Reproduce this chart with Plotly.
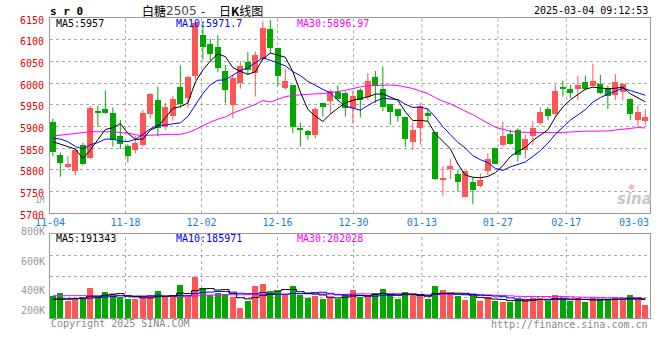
import numpy as np
import pandas as pd
import plotly.graph_objects as go

# ---------------- data ----------------
open_ = [5911, 5835, 5806, 5798, 5858, 5827, 5934, 5941, 5932, 5878,
         5855, 5847, 5858, 5929, 5961, 5900, 5924, 5990, 5966, 6017,
         6111, 6090, 6083, 6027, 5950, 6000, 6048, 6024, 6055, 6125,
         6081, 5988, 5996, 5897, 5890, 5881, 5954, 5958, 5979, 5978,
         5942, 5985, 5968, 6013, 5987, 5952, 5940, 5921, 5864, 5896,
         5931, 5888, 5778, 5802, 5791, 5738, 5771, 5763, 5798, 5851,
         5858, 5883, 5892, 5846, 5877, 5909, 5940, 5929, 5991, 5987,
         5987, 6002, 5994, 5998, 5988, 5973, 5979, 5963, 5915, 5913]
high = [5918, 5840, 5832, 5848, 5862, 5948, 5948, 5983, 5944, 5915,
        5859, 5878, 5938, 5977, 5992, 5954, 5971, 6041, 6017, 6141,
        6141, 6102, 6110, 6042, 6019, 6050, 6071, 6073, 6142, 6146,
        6082, 6032, 5996, 5909, 5892, 5944, 5954, 5985, 5994, 5981,
        5981, 5988, 6023, 6028, 6038, 5952, 5941, 5921, 5910, 5954,
        5942, 5888, 5808, 5825, 5800, 5798, 5784, 5792, 5838, 5851,
        5911, 5892, 5896, 5881, 5913, 5944, 5946, 5997, 6006, 5996,
        6017, 6017, 6045, 6019, 5994, 6021, 6000, 5965, 5948, 5940]
low = [5831, 5784, 5804, 5788, 5810, 5825, 5900, 5929, 5854, 5848,
       5817, 5838, 5854, 5919, 5877, 5892, 5913, 5943, 5943, 6007,
       6054, 6051, 6025, 5954, 5919, 5987, 6019, 5969, 6054, 6069,
       5994, 5985, 5885, 5854, 5869, 5873, 5923, 5929, 5958, 5923,
       5908, 5921, 5961, 5954, 5935, 5904, 5911, 5852, 5846, 5858,
       5911, 5777, 5741, 5779, 5750, 5738, 5721, 5760, 5788, 5814,
       5854, 5858, 5819, 5827, 5858, 5904, 5915, 5925, 5969, 5965,
       5961, 5983, 5992, 5975, 5940, 5961, 5960, 5915, 5901, 5904]
close = [5842, 5815, 5814, 5846, 5814, 5942, 5932, 5931, 5868, 5860,
         5831, 5863, 5932, 5974, 5896, 5944, 5963, 5952, 6015, 6138,
         6083, 6066, 6035, 5983, 6012, 6040, 6031, 6065, 6128, 6082,
         6017, 6006, 5898, 5894, 5881, 5941, 5944, 5982, 5963, 5942,
         5971, 5961, 6004, 5994, 5946, 5934, 5925, 5871, 5892, 5948,
         5925, 5779, 5782, 5810, 5771, 5798, 5754, 5777, 5825, 5814,
         5878, 5860, 5835, 5871, 5896, 5934, 5925, 5982, 5988, 5978,
         5996, 5986, 6005, 5977, 5971, 6002, 5998, 5929, 5933, 5922]
volume_k = [226, 252, 170, 191, 186, 306, 218, 264, 242, 216,
            186, 188, 201, 235, 275, 214, 214, 334, 214, 418,
            306, 232, 255, 239, 214, 96, 173, 323, 344, 272,
            272, 242, 323, 232, 204, 224, 191, 214, 188, 242,
            283, 214, 214, 249, 293, 232, 191, 262, 232, 232,
            191, 323, 283, 249, 224, 181, 224, 173, 214, 173,
            163, 163, 188, 181, 204, 206, 173, 232, 188, 170,
            198, 163, 198, 188, 188, 214, 181, 232, 198, 130]

# moving-average values before enough history is on screen
ma5_head = [5865, 5859, 5854, 5848]
ma10_head = [5873, 5871, 5865, 5854, 5848, 5858, 5863, 5871, 5871]
ma30_head = [5878, 5880, 5882, 5884, 5886, 5888, 5888, 5888, 5888, 5886,
             5885, 5881, 5879, 5880, 5881, 5881, 5882, 5882, 5886, 5893,
             5902, 5910, 5917, 5922, 5931, 5937, 5944, 5951, 5960]
vma5_head = [190, 190, 192, 198]
vma10_head = [195, 195, 196, 197, 198, 203, 208, 214, 220]
vma30_head = [228, 228, 228, 228, 228, 228, 228, 228, 228, 228,
              227, 226, 225, 224, 222, 220, 220, 220, 221, 225,
              232, 234, 235, 236, 237, 237, 238, 238, 239]

date_labels = ["11-04", "11-18", "12-02", "12-16", "12-30", "01-13", "01-27", "02-17", "03-03"]
date_index = [0, 10, 20, 30, 40, 49, 59, 68, 78]
price_ticks = [5700, 5750, 5800, 5850, 5900, 5950, 6000, 6050, 6100, 6150]
vol_tick_labels = ["1M", "800K", "600K", "400K", "200K"]

title_code = "s r 0"
title_parts = ["白糖", "2505", "-", "日", "K", "线图"]
timestamp = "2025-03-04 09:12:53"
ma_price_labels = ["MA5:5957", "MA10:5971.7", "MA30:5896.97"]
ma_vol_labels = ["MA5:191343", "MA10:185971", "MA30:202028"]

# ---------------- derived ----------------
n = len(close)
idx = np.arange(n)
cl = pd.Series(close, dtype=float)
vol = pd.Series(volume_k, dtype=float) * 1000


def ma(series, w, head):
    m = series.rolling(w).mean().to_numpy()
    m[:len(head)] = head
    return m


ma5 = ma(cl, 5, ma5_head)
ma10 = ma(cl, 10, ma10_head)
ma30 = ma(cl, 30, ma30_head)
vma5 = ma(vol, 5, [v * 1000 for v in vma5_head])
vma10 = ma(vol, 10, [v * 1000 for v in vma10_head])
vma30 = ma(vol, 30, [v * 1000 for v in vma30_head])

UP = "#ff5555"
DN = "#00a800"
up = [c >= o for o, c in zip(open_, close)]
colors = [UP if u else DN for u in up]

# pixel geometry
W, H = 660, 360
L, R, T, B = 50, 10, 18, 42
PW, PH = W - L - R, H - T - B
X0, PITCH = 52.85, 7.5


def px2x(px):
    return (px - X0) / PITCH


def xp(px):
    return (px - L) / PW


def yp(py):
    return (H - B - py) / PH


xr = [px2x(L), px2x(L + PW)]
VTOP = 854000

fig = go.Figure()

# wicks
for flag, col in [(True, UP), (False, DN)]:
    xs, ys = [], []
    for i in range(n):
        if up[i] == flag:
            xs += [i, i, None]
            ys += [low[i], high[i], None]
    fig.add_trace(go.Scatter(x=xs, y=ys, mode="lines", line=dict(color=col, width=1),
                             xaxis="x", yaxis="y", hoverinfo="skip", showlegend=False))

# bodies
body_base = [min(o, c) for o, c in zip(open_, close)]
body_h = [max(abs(c - o), 2.4) for o, c in zip(open_, close)]
fig.add_trace(go.Bar(x=idx, y=body_h, base=body_base, width=0.77,
                     marker=dict(color=colors, line=dict(width=0)),
                     xaxis="x", yaxis="y", hoverinfo="skip", showlegend=False))

for m, col in [(ma30, "#ff00ff"), (ma10, "#0000ff"), (ma5, "#000000")]:
    fig.add_trace(go.Scatter(x=idx, y=m, mode="lines", line=dict(color=col, width=1),
                             xaxis="x", yaxis="y", hoverinfo="skip", showlegend=False))

# volume
fig.add_trace(go.Bar(x=idx, y=vol, width=0.8, marker=dict(color=colors, line=dict(width=0)),
                     xaxis="x2", yaxis="y2", hoverinfo="skip", showlegend=False))
for m, col in [(vma30, "#ff00ff"), (vma10, "#0000ff"), (vma5, "#000000")]:
    fig.add_trace(go.Scatter(x=idx, y=m, mode="lines", line=dict(color=col, width=1, shape="hvh"),
                             xaxis="x2", yaxis="y2", hoverinfo="skip", showlegend=False))

# date label positions and grid positions
grid_px = [49.5 + 7.6 * j for j in date_index]
label_x = []
for k, gpx in enumerate(grid_px):
    if k == 0:
        label_x.append(xr[0])
    elif k == len(grid_px) - 1:
        label_x.append(px2x(634))
    else:
        label_x.append(px2x(gpx))

shapes = []
for k, gpx in enumerate(grid_px[1:-1]):
    gx = px2x(gpx)
    for yref in ["y domain", "y2 domain"]:
        shapes.append(dict(type="line", xref="x", yref=yref, x0=gx, x1=gx, y0=0, y1=1,
                           line=dict(color="#aaaaaa", width=1, dash="dot"), layer="below"))

MONO = "DejaVu Sans Mono"
CJK = "Noto Sans CJK SC"
grid = dict(showgrid=True, gridcolor="#aaaaaa", griddash="dot", gridwidth=1)
frame = dict(showline=True, mirror=True, linecolor="#999999", linewidth=1, zeroline=False)

fig.update_layout(
    width=W, height=H, margin=dict(l=L, r=R, t=T, b=B),
    paper_bgcolor="white", plot_bgcolor="white",
    barmode="overlay", bargap=0, showlegend=False,
    xaxis=dict(domain=[0, 1], range=xr, anchor="y", tickmode="array",
               tickvals=label_x, ticktext=date_labels, ticks="", showgrid=False,
               tickfont=dict(family=MONO, size=10, color="#1a7fd0"), **frame),
    yaxis=dict(domain=[0.349, 1.0], range=[5700, 6150], anchor="x", tickmode="array",
               tickvals=price_ticks, ticktext=[str(v) for v in price_ticks], ticks="",
               tickfont=dict(family=MONO, size=10, color="#e00000"), ticklabelshift=2,
               ticklabelstandoff=3, **grid, **frame),
    xaxis2=dict(domain=[0, 1], range=xr, anchor="y2", matches="x", showticklabels=False,
                ticks="", showgrid=False, **frame),
    yaxis2=dict(domain=[0.0, 0.279], range=[0, VTOP], anchor="x2", tickmode="array",
                tickvals=[VTOP / 4, VTOP / 2, VTOP * 3 / 4], showticklabels=False, ticks="",
                **grid, **frame),
    shapes=shapes,
)

ann = []


def add(text, px, py, color="#000", size=10, anchor="left", family=MONO, **kw):
    ann.append(dict(text=text, x=xp(px), y=yp(py), xref="paper", yref="paper",
                    xanchor=anchor, yanchor="middle", showarrow=False,
                    font=dict(family=family, size=size, color=color), **kw))


add("<b>" + title_code + "</b>", 48, 11.5, size=11)
# title pieces placed as in the reference
add(title_parts[0], 140, 10.5, size=12, family=CJK)
add(title_parts[1], 164, 10.5, size=12, family="DejaVu Sans", color="#444444")
add(title_parts[2], 203, 10.5, size=12, anchor="center", family=CJK)
add(title_parts[3] + "<b>" + title_parts[4] + "</b>" + title_parts[5], 217, 10.5,
    size=12, family=CJK)
add(timestamp, 650, 11, anchor="right")
for text, px, col in zip(ma_price_labels, [54, 174, 295], ["#000000", "#0000ff", "#ff00ff"]):
    add(text, px, 23.5, color=col)
for text, px, col in zip(ma_vol_labels, [54, 174, 295], ["#000000", "#0000ff", "#ff00ff"]):
    add(text, px, 238.5, color=col)
for text, py, sz in zip(vol_tick_labels, [200.5, 231, 261, 290, 310], [8, 10, 10, 10, 10]):
    add(text, 47, py, color="#999999", anchor="right", size=sz)
add("Copyright 2025 SINA.COM", 49, 323.5, color="#888888")
add("http://finance.sina.com.cn", 650, 324, color="#888888", anchor="right")
add("<b><i>sina</i></b>", 634, 199, color="#c8c8c8", size=15, anchor="center",
    family="DejaVu Sans")
add("◉", 631, 186, color="#f2b3b3", size=8, anchor="center", family="DejaVu Sans")
fig.update_layout(annotations=ann)

fig.write_html("out.html")
